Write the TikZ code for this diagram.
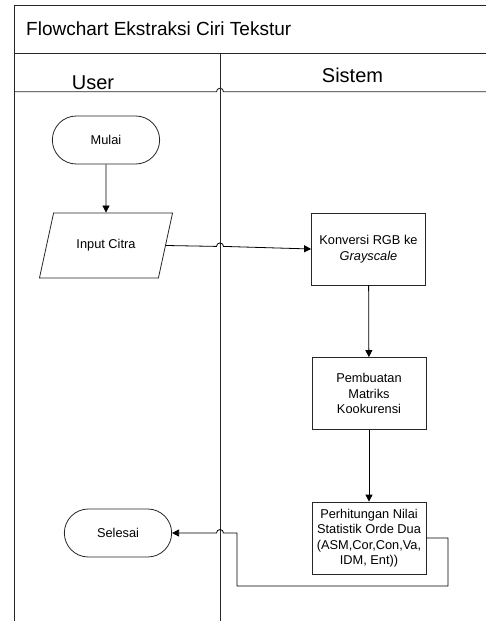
\documentclass[tikz,border=0pt]{standalone}
\usepackage{fontspec}
\setmainfont{Liberation Sans}
\usetikzlibrary{shapes.geometric,shapes.misc,arrows.meta,calc}
\begin{document}
\begin{tikzpicture}[x=1pt,y=-1pt,
  frame/.style={draw=black!85,line width=0.9pt},
  proc/.style={draw=black!85,line width=0.8pt,rectangle,minimum width=114pt,minimum height=72pt,align=center,inner sep=1pt,font=\fontsize{12.8}{15.5}\selectfont},
  term/.style={draw=black!85,line width=0.8pt,rounded rectangle,minimum width=114pt,minimum height=48pt,font=\fontsize{12.8}{15.5}\selectfont},
  io/.style={draw=black!85,line width=0.8pt,trapezium,trapezium left angle=64.5,trapezium right angle=115.5,trapezium stretches=true,minimum width=134pt,minimum height=65pt,font=\fontsize{12.8}{15.5}\selectfont},
  flow/.style={draw=black,line width=0.8pt,-{Triangle[length=7pt,width=7pt]}},
  line/.style={draw=black!85,line width=0.8pt}]
\useasboundingbox (0,0) rectangle (486,621);
% frame
\coordinate (tl) at (14.5,5);
\coordinate (tr) at (486,5);
\coordinate (bl) at (14.5,621);
\coordinate (ml) at (14.5,53);
\coordinate (mr) at (486,53);
\coordinate (hl) at (14.5,91.7);
\coordinate (hr) at (486,91.7);
\coordinate (hopa) at (216.5,91.7);
\coordinate (lt) at (220,53);
\coordinate (lb) at (220,621);
\draw[frame] (tr) -- (tl) -- (bl);
\draw[frame] (ml) -- (mr);
\draw[frame] (lt) -- (lb);
\draw[frame] (hl) -- (hopa) arc[start angle=180,end angle=360,radius=3.5] -- (hr);
% titles
\node[anchor=base west,inner sep=0pt,font=\fontsize{19}{22}\selectfont] (title) at (26,35) {Flowchart Ekstraksi Ciri Tekstur};
\node[anchor=base,inner sep=0pt,font=\fontsize{20}{24}\selectfont] (user) at (93,89) {User};
\node[anchor=base,inner sep=0pt,font=\fontsize{20}{24}\selectfont] (sistem) at (352.5,82.7) {Sistem};
% nodes
\node[term] (mulai) at (106,140) {Mulai};
\node[io] (inp) at (106,245.5) {Input Citra};
\node[proc] (kon) at (368.5,249) {Konversi RGB ke\\\textit{Grayscale}};
\node[proc] (pem) at (369,393.5) {Pembuatan\\Matriks\\Kookurensi};
\node[proc] (per) at (369,538) {Perhitungan Nilai\\Statistik Orde Dua\\(ASM,Cor,Con,Va,\\IDM, Ent))};
\node[term] (sel) at (118,533) {Selesai};
% connectors
\draw[flow] (mulai) -- (inp);
\coordinate (inpE) at ($(inp.top right corner)!0.5!(inp.bottom right corner)$);
\coordinate (h1) at (216.5,246.4);
\draw[flow] (inpE) -- (h1) arc[start angle=180,end angle=360,radius=3.5] -- (kon.west);
\draw[flow] (kon) -- (pem);
\draw[flow] (pem) -- (per);
\coordinate (c1) at (448,586);
\coordinate (c2) at (237,586);
\coordinate (c3) at (237,533);
\coordinate (h2) at (223.5,533);
\draw[flow] (per.east) -| (c1) -- (c2) -- (c3) -- (h2) arc[start angle=360,end angle=180,radius=3.5] -- (sel.east);
\end{tikzpicture}
\end{document}
